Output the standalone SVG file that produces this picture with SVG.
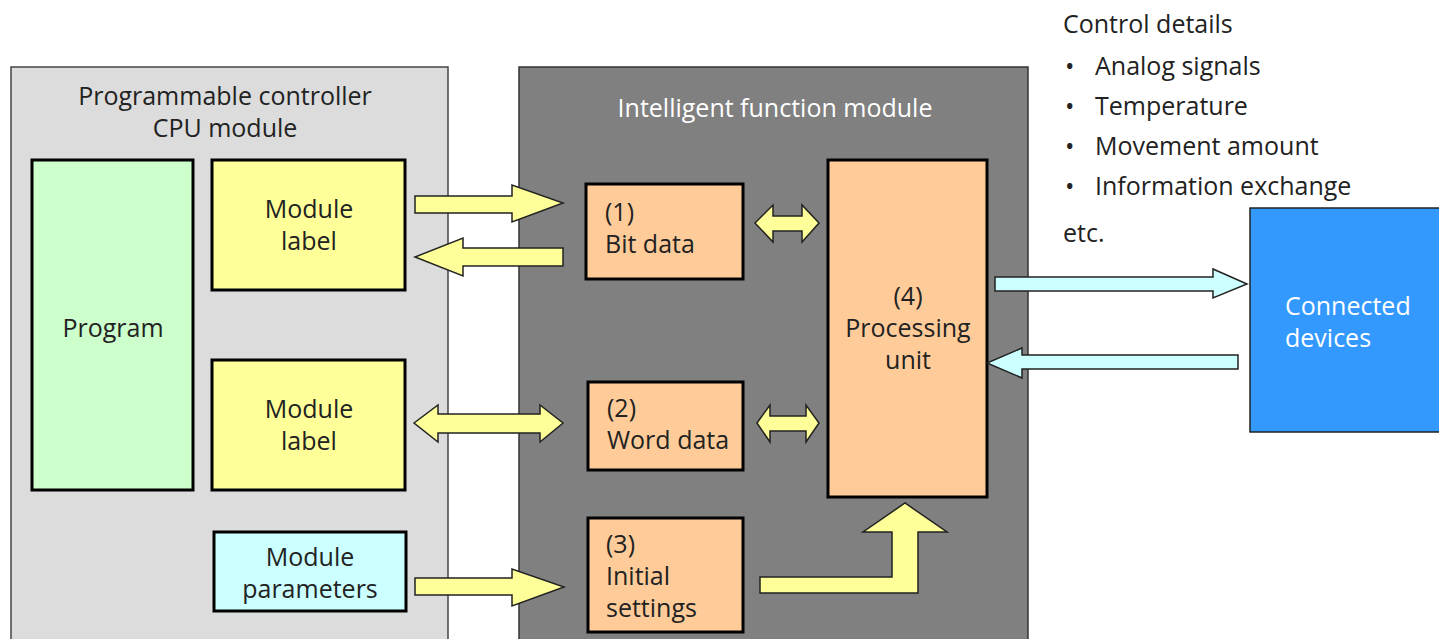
<svg xmlns="http://www.w3.org/2000/svg" width="1439" height="639" viewBox="0 0 1439 639">
<style>
text{font-family:"Open Sans","Noto Sans","Liberation Sans",sans-serif;font-size:25px;fill:#222222}
.c{text-anchor:middle}
.w{fill:#ffffff}
.box{stroke:#000;stroke-width:3}
.ya{fill:#ffff99;stroke:#222;stroke-width:1.5;stroke-linejoin:miter}
.ca{fill:#ccffff;stroke:#222;stroke-width:1.5}
</style>
<rect width="1439" height="639" fill="#ffffff"/>
<g id="cpu-module">
<rect x="11" y="67" width="437" height="580" fill="#dcdcdc" stroke="#444" stroke-width="1.5"/>
<text class="c" x="225" y="105">Programmable controller</text>
<text class="c" x="225" y="137">CPU module</text>
</g>
<g id="intelligent-module">
<rect x="519" y="67" width="509" height="580" fill="#808080" stroke="#333" stroke-width="1.5"/>
<text class="c w" x="775" y="117">Intelligent function module</text>
</g>
<g id="program">
<rect class="box" x="32" y="160" width="161" height="330" fill="#ccffcc"/>
<text class="c" x="113" y="337">Program</text>
</g>
<g id="module-label-1">
<rect class="box" x="212" y="160" width="193" height="130" fill="#ffff99"/>
<text class="c" x="309" y="218">Module</text>
<text class="c" x="309" y="250">label</text>
</g>
<g id="module-label-2">
<rect class="box" x="212" y="360" width="193" height="130" fill="#ffff99"/>
<text class="c" x="309" y="418">Module</text>
<text class="c" x="309" y="450">label</text>
</g>
<g id="module-parameters">
<rect class="box" x="214" y="532" width="192" height="79" fill="#ccffff"/>
<text class="c" x="310" y="566">Module</text>
<text class="c" x="310" y="598">parameters</text>
</g>
<g id="bit-data">
<rect class="box" x="586" y="184" width="157" height="95" fill="#ffcc99"/>
<text x="605" y="221">(1)</text>
<text x="605" y="253">Bit data</text>
</g>
<g id="word-data">
<rect class="box" x="588" y="382" width="155" height="88" fill="#ffcc99"/>
<text x="607" y="417">(2)</text>
<text x="607" y="449">Word data</text>
</g>
<g id="initial-settings">
<rect class="box" x="588" y="518" width="155" height="114" fill="#ffcc99"/>
<text x="606" y="553">(3)</text>
<text x="606" y="585">Initial</text>
<text x="606" y="617">settings</text>
</g>
<g id="processing-unit">
<rect class="box" x="828" y="160" width="159" height="337" fill="#ffcc99"/>
<text class="c" x="908" y="305">(4)</text>
<text class="c" x="908" y="337">Processing</text>
<text class="c" x="908" y="369">unit</text>
</g>
<g id="connected-devices">
<rect x="1250" y="208" width="200" height="224" fill="#3399ff" stroke="#222" stroke-width="1.5"/>
<text class="w" x="1285" y="315">Connected</text>
<text class="w" x="1285" y="347">devices</text>
</g>
<g id="control-details">
<text x="1063" y="33">Control details</text>
<text x="1065" y="75">•</text><text x="1095" y="75">Analog signals</text>
<text x="1065" y="115">•</text><text x="1095" y="115">Temperature</text>
<text x="1065" y="155">•</text><text x="1095" y="155">Movement amount</text>
<text x="1065" y="195">•</text><text x="1095" y="195">Information exchange</text>
<text x="1063" y="242">etc.</text>
</g>
<g id="connectors">
<polygon class="ya" points="415,196 512,196 512,185 563,203 512,222 512,213 415,213"/>
<polygon class="ya" points="563,248 463,248 463,238 415,257 463,276 463,266 563,266"/>
<polygon class="ya" points="755,223 773,205 773,216 802,216 802,205 819,223 802,242 802,231 773,231 773,242"/>
<polygon class="ya" points="414,423 438,405 438,414 540,414 540,405 563,423 540,442 540,433 438,433 438,442"/>
<polygon class="ya" points="757,423 770,405 770,416 806,416 806,405 819,423 806,442 806,431 770,431 770,442"/>
<polygon class="ya" points="415,578 512,578 512,569 564,587 512,606 512,595 415,595"/>
<polygon class="ya" points="760,577 892,577 892,532 863,532 905,503 947,532 918,532 918,593 760,593"/>
<polygon class="ca" points="995,277 1213,277 1213,269 1247,284 1213,298 1213,291 995,291"/>
<polygon class="ca" points="1238,355 1022,355 1022,348 987,363 1022,378 1022,369 1238,369"/>
</g>
</svg>
